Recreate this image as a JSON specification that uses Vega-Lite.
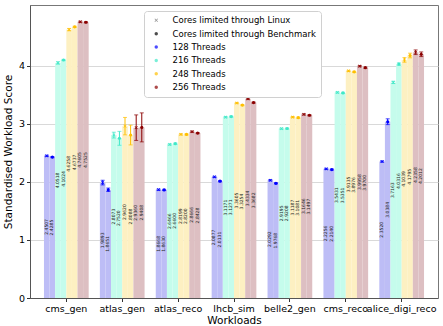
{
  "$schema": "https://vega.github.io/schema/vega-lite/v6.json",
  "width": 443,
  "height": 326,
  "autosize": {"type": "fit", "contains": "padding"},
  "padding": {"left": 3, "top": 5, "right": 5, "bottom": 0},
  "background": "white",
  "datasets": {
    "scores": [
      {"w": "cms_gen", "t": "128", "m": "Linux", "k": "128 Linux", "v": 2.4507, "e": 0.01},
      {"w": "cms_gen", "t": "128", "m": "Benchmark", "k": "128 Benchmark", "v": 2.4285, "e": 0.01},
      {"w": "cms_gen", "t": "216", "m": "Linux", "k": "216 Linux", "v": 4.0518, "e": 0.02},
      {"w": "cms_gen", "t": "216", "m": "Benchmark", "k": "216 Benchmark", "v": 4.1024, "e": 0.01},
      {"w": "cms_gen", "t": "248", "m": "Linux", "k": "248 Linux", "v": 4.6258, "e": 0.02},
      {"w": "cms_gen", "t": "248", "m": "Benchmark", "k": "248 Benchmark", "v": 4.6737, "e": 0.01},
      {"w": "cms_gen", "t": "256", "m": "Linux", "k": "256 Linux", "v": 4.7605, "e": 0.01},
      {"w": "cms_gen", "t": "256", "m": "Benchmark", "k": "256 Benchmark", "v": 4.7525, "e": 0.01},
      {"w": "atlas_gen", "t": "128", "m": "Linux", "k": "128 Linux", "v": 1.9893, "e": 0.04},
      {"w": "atlas_gen", "t": "128", "m": "Benchmark", "k": "128 Benchmark", "v": 1.8651, "e": 0.03},
      {"w": "atlas_gen", "t": "216", "m": "Linux", "k": "216 Linux", "v": 2.8073, "e": 0.05},
      {"w": "atlas_gen", "t": "216", "m": "Benchmark", "k": "216 Benchmark", "v": 2.7520, "e": 0.12},
      {"w": "atlas_gen", "t": "248", "m": "Linux", "k": "248 Linux", "v": 2.9620, "e": 0.15},
      {"w": "atlas_gen", "t": "248", "m": "Benchmark", "k": "248 Benchmark", "v": 2.8088, "e": 0.17},
      {"w": "atlas_gen", "t": "256", "m": "Linux", "k": "256 Linux", "v": 2.9360, "e": 0.22},
      {"w": "atlas_gen", "t": "256", "m": "Benchmark", "k": "256 Benchmark", "v": 2.9408, "e": 0.25},
      {"w": "atlas_reco", "t": "128", "m": "Linux", "k": "128 Linux", "v": 1.8668, "e": 0.01},
      {"w": "atlas_reco", "t": "128", "m": "Benchmark", "k": "128 Benchmark", "v": 1.8630, "e": 0.01},
      {"w": "atlas_reco", "t": "216", "m": "Linux", "k": "216 Linux", "v": 2.6466, "e": 0.01},
      {"w": "atlas_reco", "t": "216", "m": "Benchmark", "k": "216 Benchmark", "v": 2.6600, "e": 0.01},
      {"w": "atlas_reco", "t": "248", "m": "Linux", "k": "248 Linux", "v": 2.8199, "e": 0.01},
      {"w": "atlas_reco", "t": "248", "m": "Benchmark", "k": "248 Benchmark", "v": 2.8200, "e": 0.01},
      {"w": "atlas_reco", "t": "256", "m": "Linux", "k": "256 Linux", "v": 2.8666, "e": 0.01},
      {"w": "atlas_reco", "t": "256", "m": "Benchmark", "k": "256 Benchmark", "v": 2.8428, "e": 0.01},
      {"w": "lhcb_sim", "t": "128", "m": "Linux", "k": "128 Linux", "v": 2.0877, "e": 0.01},
      {"w": "lhcb_sim", "t": "128", "m": "Benchmark", "k": "128 Benchmark", "v": 2.0131, "e": 0.01},
      {"w": "lhcb_sim", "t": "216", "m": "Linux", "k": "216 Linux", "v": 3.1171, "e": 0.01},
      {"w": "lhcb_sim", "t": "216", "m": "Benchmark", "k": "216 Benchmark", "v": 3.1271, "e": 0.01},
      {"w": "lhcb_sim", "t": "248", "m": "Linux", "k": "248 Linux", "v": 3.3605, "e": 0.01},
      {"w": "lhcb_sim", "t": "248", "m": "Benchmark", "k": "248 Benchmark", "v": 3.3254, "e": 0.01},
      {"w": "lhcb_sim", "t": "256", "m": "Linux", "k": "256 Linux", "v": 3.4334, "e": 0.01},
      {"w": "lhcb_sim", "t": "256", "m": "Benchmark", "k": "256 Benchmark", "v": 3.3682, "e": 0.01},
      {"w": "belle2_gen", "t": "128", "m": "Linux", "k": "128 Linux", "v": 2.0292, "e": 0.01},
      {"w": "belle2_gen", "t": "128", "m": "Benchmark", "k": "128 Benchmark", "v": 1.9768, "e": 0.01},
      {"w": "belle2_gen", "t": "216", "m": "Linux", "k": "216 Linux", "v": 2.9195, "e": 0.01},
      {"w": "belle2_gen", "t": "216", "m": "Benchmark", "k": "216 Benchmark", "v": 2.9208, "e": 0.01},
      {"w": "belle2_gen", "t": "248", "m": "Linux", "k": "248 Linux", "v": 3.1187, "e": 0.01},
      {"w": "belle2_gen", "t": "248", "m": "Benchmark", "k": "248 Benchmark", "v": 3.1081, "e": 0.01},
      {"w": "belle2_gen", "t": "256", "m": "Linux", "k": "256 Linux", "v": 3.1646, "e": 0.01},
      {"w": "belle2_gen", "t": "256", "m": "Benchmark", "k": "256 Benchmark", "v": 3.1497, "e": 0.01},
      {"w": "cms_reco", "t": "128", "m": "Linux", "k": "128 Linux", "v": 2.2256, "e": 0.01},
      {"w": "cms_reco", "t": "128", "m": "Benchmark", "k": "128 Benchmark", "v": 2.2140, "e": 0.01},
      {"w": "cms_reco", "t": "216", "m": "Linux", "k": "216 Linux", "v": 3.5431, "e": 0.01},
      {"w": "cms_reco", "t": "216", "m": "Benchmark", "k": "216 Benchmark", "v": 3.5351, "e": 0.01},
      {"w": "cms_reco", "t": "248", "m": "Linux", "k": "248 Linux", "v": 3.9135, "e": 0.01},
      {"w": "cms_reco", "t": "248", "m": "Benchmark", "k": "248 Benchmark", "v": 3.8976, "e": 0.01},
      {"w": "cms_reco", "t": "256", "m": "Linux", "k": "256 Linux", "v": 3.9958, "e": 0.01},
      {"w": "cms_reco", "t": "256", "m": "Benchmark", "k": "256 Benchmark", "v": 3.9700, "e": 0.01},
      {"w": "alice_digi_reco", "t": "128", "m": "Linux", "k": "128 Linux", "v": 2.3520, "e": 0.01},
      {"w": "alice_digi_reco", "t": "128", "m": "Benchmark", "k": "128 Benchmark", "v": 3.0384, "e": 0.05},
      {"w": "alice_digi_reco", "t": "216", "m": "Linux", "k": "216 Linux", "v": 3.7163, "e": 0.02},
      {"w": "alice_digi_reco", "t": "216", "m": "Benchmark", "k": "216 Benchmark", "v": 4.0316, "e": 0.02},
      {"w": "alice_digi_reco", "t": "248", "m": "Linux", "k": "248 Linux", "v": 4.1039, "e": 0.04},
      {"w": "alice_digi_reco", "t": "248", "m": "Benchmark", "k": "248 Benchmark", "v": 4.1795, "e": 0.04},
      {"w": "alice_digi_reco", "t": "256", "m": "Linux", "k": "256 Linux", "v": 4.2358, "e": 0.04},
      {"w": "alice_digi_reco", "t": "256", "m": "Benchmark", "k": "256 Benchmark", "v": 4.2012, "e": 0.04}
    ]
  },
  "encoding": {
    "x": {
      "field": "w", "type": "nominal", "sort": null,
      "scale": {"paddingInner": 0.2, "paddingOuter": 0.25},
      "axis": {"title": "Workloads", "labelAngle": 0, "labelFontSize": 9.5, "titleFontSize": 10.5, "titleFontWeight": "normal", "labelColor": "#000", "titleColor": "#000", "tickColor": "#333", "domainColor": "#555", "titlePadding": 2, "labelPadding": 2, "tickSize": 3.5}
    },
    "xOffset": {
      "field": "k", "type": "nominal",
      "scale": {"domain": ["128 Linux", "128 Benchmark", "216 Linux", "216 Benchmark", "248 Linux", "248 Benchmark", "256 Linux", "256 Benchmark"], "paddingInner": 0, "paddingOuter": 0}
    }
  },
  "layer": [
    {
      "data": {"name": "scores"},
      "layer": [
        {
          "mark": {"type": "bar", "strokeWidth": 0},
          "encoding": {
            "y": {"field": "v", "type": "quantitative", "title": "Standardised Workload Score", "scale": {"domain": [0, 5.05], "nice": false},
              "axis": {"title": "Standardised Workload Score", "values": [0, 1, 2, 3, 4], "format": "d", "labelFontSize": 9.5, "titleFontSize": 10.5, "titleFontWeight": "normal", "labelColor": "#000", "titleColor": "#000", "gridColor": "#d9d9d9", "tickColor": "#333", "domainColor": "#555", "tickSize": 3.5, "titlePadding": 5, "labelPadding": 2}},
            "color": {"field": "t", "type": "nominal", "legend": null,
              "scale": {"domain": ["128", "216", "248", "256"], "range": ["#bdbdf6", "#c5fcec", "#fdf0c2", "#ddbfc2"]}}
          }
        },
        {
          "mark": {"type": "errorbar", "ticks": {"size": 4, "thickness": 1}, "thickness": 1},
          "encoding": {
            "y": {"field": "v", "type": "quantitative", "title": "Standardised Workload Score"},
            "yError": {"field": "e"},
            "color": {"field": "t", "type": "nominal", "legend": null,
              "scale": {"domain": ["128", "216", "248", "256"], "range": ["#0000ff", "#40e8c8", "#ffbf00", "#8b0000"]}}
          }
        },
        {
          "mark": {"type": "point", "filled": true, "size": 10, "opacity": 1},
          "encoding": {
            "y": {"field": "v", "type": "quantitative", "title": "Standardised Workload Score"},
            "color": {"field": "t", "type": "nominal", "legend": null,
              "scale": {"domain": ["128", "216", "248", "256"], "range": ["#0000ff", "#40e8c8", "#ffbf00", "#8b0000"]}},
            "shape": {"field": "m", "type": "nominal", "legend": null,
              "scale": {"domain": ["Linux", "Benchmark"], "range": ["M-1,-0.7L-0.7,-1L0,-0.3L0.7,-1L1,-0.7L0.3,0L1,0.7L0.7,1L0,0.3L-0.7,1L-1,0.7L-0.3,0Z", "circle"]}}
          }
        }
      ],
      "resolve": {"scale": {"color": "independent"}}
    },
    {
      "data": {"name": "scores"},
      "mark": {"type": "text", "angle": 270, "fontSize": 4.5, "align": "center", "baseline": "middle", "color": "#222", "font": "DejaVu Sans"},
      "encoding": {
        "y": {"field": "v", "type": "quantitative", "scale": {"domain": [0, 10.1], "nice": false}, "axis": null},
        "text": {"field": "v", "type": "quantitative", "format": ".4f"}
      }
    },
    {
      "data": {"values": []},
      "mark": {"type": "point", "filled": true, "size": 14},
      "encoding": {
        "color": {"field": "lg", "type": "nominal",
          "scale": {"domain": ["Cores limited through Linux", "Cores limited through Benchmark", "128 Threads", "216 Threads", "248 Threads", "256 Threads"], "range": ["#666666", "#000000", "#0000ff", "#40e8c8", "#ffbf00", "#8b0000"]},
          "legend": {"title": null, "orient": "none", "legendX": 114, "legendY": 6, "labelFontSize": 8.5, "labelColor": "#000", "fillColor": "white", "strokeColor": "#d0d0d0", "cornerRadius": 3, "padding": 5, "rowPadding": 4.4, "symbolSize": 12, "labelOffset": 12, "symbolOffset": 3, "labelLimit": 300}},
        "shape": {"field": "lg", "type": "nominal",
          "scale": {"domain": ["Cores limited through Linux", "Cores limited through Benchmark", "128 Threads", "216 Threads", "248 Threads", "256 Threads"], "range": ["M-1,-0.7L-0.7,-1L0,-0.3L0.7,-1L1,-0.7L0.3,0L1,0.7L0.7,1L0,0.3L-0.7,1L-1,0.7L-0.3,0Z", "circle", "circle", "circle", "circle", "circle"]}}
      }
    }
  ],
  "resolve": {"scale": {"y": "independent", "color": "independent", "shape": "independent"}},
  "config": {
    "font": "DejaVu Sans",
    "view": {"stroke": "#777"},
    "axisX": {"grid": false},
    "axisY": {"grid": true}
  }
}
